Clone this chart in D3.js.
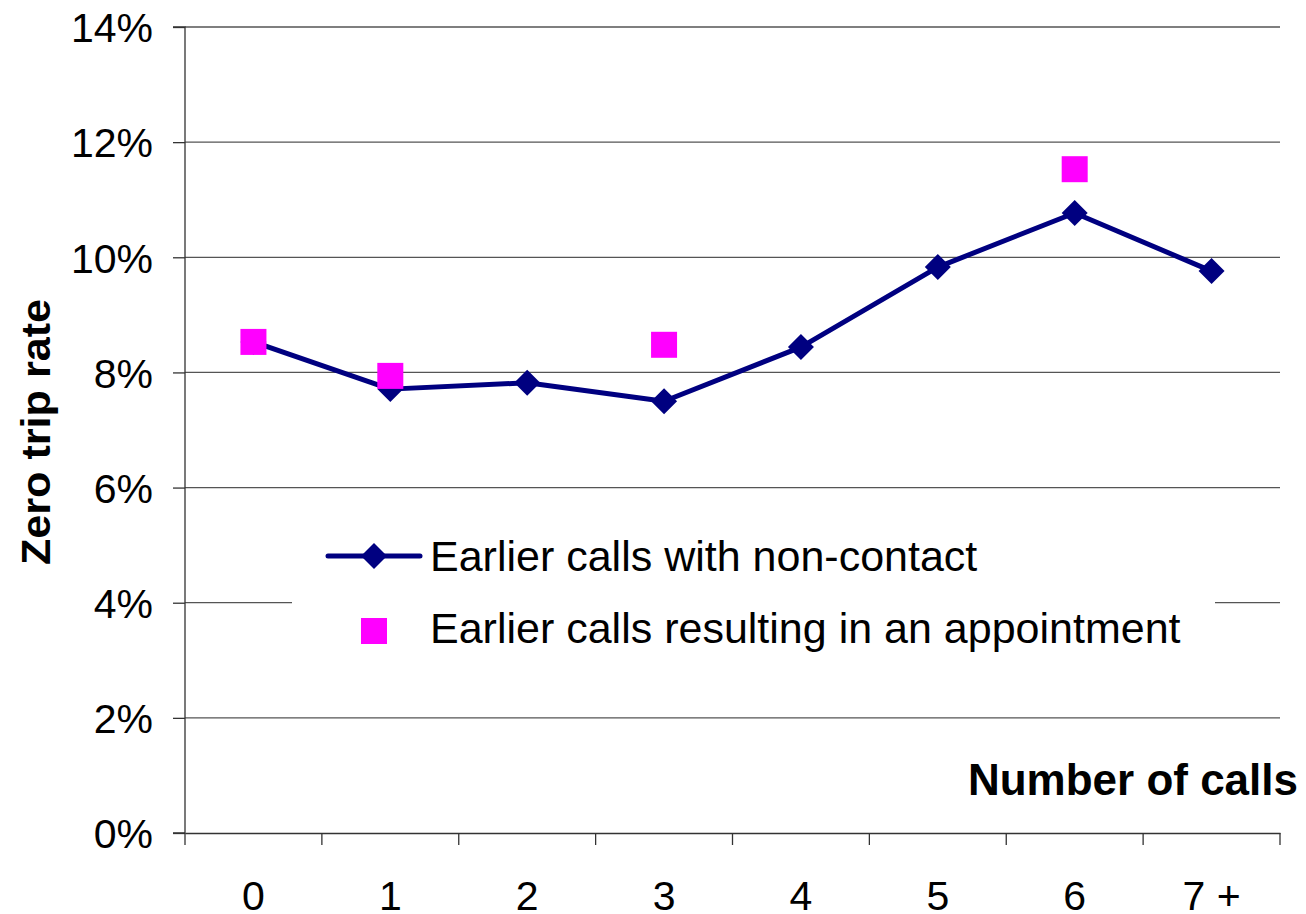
<!DOCTYPE html>
<html><head><meta charset="utf-8">
<script src="https://cdn.jsdelivr.net/npm/d3@7/dist/d3.min.js"></script>
<style>body{margin:0;background:#fff;} svg{display:block;font-family:Arial,"Liberation Sans",sans-serif;}</style>
</head><body>
<svg id="c" width="1306" height="914"></svg>
<script>
const categories = ["0","1","2","3","4","5","6","7 +"];
const nonContact = [8.53, 7.71, 7.82, 7.50, 8.44, 9.83, 10.77, 9.76];
const appointment = [8.53, 7.94, null, 8.48, null, null, 11.53, null];
const yTicks = [0,2,4,6,8,10,12,14];
const seriesNames = ["Earlier calls with non-contact","Earlier calls resulting in an appointment"];

const svg = d3.select("#c");
const L=185, R=1280, T=27, B=833;
const x = d3.scaleBand().domain(categories).range([L,R]);
const y = d3.scaleLinear().domain([0,14]).range([B,T]);

// gridlines
svg.append("g").selectAll("line").data(yTicks.filter(d=>d>0)).join("line")
  .attr("x1",L).attr("x2",R).attr("y1",d=>y(d)).attr("y2",d=>y(d))
  .attr("stroke","#555").attr("stroke-width",1.3);

// y axis
const ya = svg.append("g").attr("transform",`translate(${L},0)`)
  .call(d3.axisLeft(y).tickValues(yTicks).tickFormat(d=>d+"%").tickSize(12).tickPadding(20));
ya.select(".domain").attr("stroke","#333").attr("stroke-width",1.3).attr("d",`M-12,${B}H0V${T}H-12`);
ya.selectAll(".tick line").attr("stroke","#333").attr("stroke-width",1.3);
ya.selectAll("text").attr("font-size",41).attr("fill","#000").attr("font-family","Arial, 'Liberation Sans', sans-serif").attr("dy","0.36em");

// x axis
const xa = svg.append("g").attr("transform",`translate(0,${B})`)
  .call(d3.axisBottom(x).tickSize(0).tickPadding(48));
xa.select(".domain").attr("stroke","#333").attr("stroke-width",1.3);
xa.selectAll("text").attr("font-size",41).attr("fill","#000").attr("font-family","Arial, 'Liberation Sans', sans-serif");
const bounds = categories.map(c=>x(c)).concat([R]);
svg.append("g").selectAll("line").data(bounds).join("line")
  .attr("x1",d=>d).attr("x2",d=>d).attr("y1",B).attr("y2",B+12)
  .attr("stroke","#333").attr("stroke-width",1.3);

// axis titles
svg.append("text").attr("transform","translate(50,432) rotate(-90)")
  .attr("text-anchor","middle").attr("font-weight","bold").attr("font-size",40)
  .attr("textLength",266).attr("lengthAdjust","spacingAndGlyphs").text("Zero trip rate");
svg.append("text").attr("x",1298).attr("y",795).attr("text-anchor","end")
  .attr("font-weight","bold").attr("font-size",44).text("Number of calls");

const cx = c => x(c)+x.bandwidth()/2;
const navy="#000080", pink="#FF00FF";

// line
svg.append("path").datum(nonContact.map((v,i)=>[cx(categories[i]),y(v)]))
  .attr("d",d3.line()).attr("fill","none").attr("stroke",navy).attr("stroke-width",5).attr("stroke-linejoin","round");
const diamond = (g, px, py)=> g.append("path")
  .attr("d",`M${px},${py-13}L${px+13},${py}L${px},${py+13}L${px-13},${py}Z`).attr("fill",navy);
const dg = svg.append("g");
nonContact.forEach((v,i)=>diamond(dg, cx(categories[i]), y(v)));

// pink squares
svg.append("g").selectAll("rect").data(appointment.map((v,i)=>({v,c:categories[i]})).filter(d=>d.v!=null)).join("rect")
  .attr("x",d=>cx(d.c)-13).attr("y",d=>y(d.v)-13).attr("width",26).attr("height",26).attr("fill",pink);

// legend
const lg = svg.append("g");
lg.append("rect").attr("x",292).attr("y",510).attr("width",923).attr("height",150).attr("fill","#fff");
lg.append("line").attr("x1",328).attr("x2",420).attr("y1",556).attr("y2",556).attr("stroke",navy).attr("stroke-width",5).attr("stroke-linecap","round");
diamond(lg, 374, 556);
lg.append("rect").attr("x",361).attr("y",618).attr("width",26).attr("height",26).attr("fill",pink);
lg.append("text").attr("x",430).attr("y",571).attr("font-size",43).text(seriesNames[0]);
lg.append("text").attr("x",430).attr("y",643).attr("font-size",43).text(seriesNames[1]);
</script>
</body></html>
